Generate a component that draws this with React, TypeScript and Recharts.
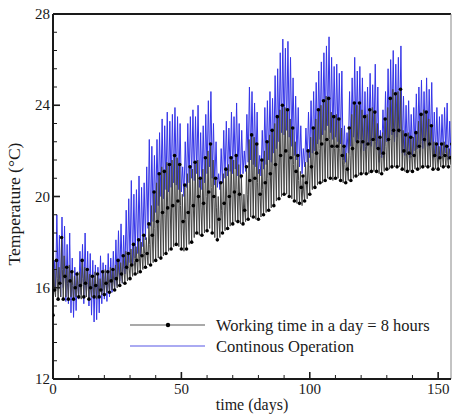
import { LineChart, Line, XAxis, YAxis, ReferenceLine } from "recharts";

// daily peak / trough of the continuous-operation run (°C), days 0..155
const blueHigh = [
  17.2, 19.2, 18.3, 19.1, 18.7, 17.9, 18.4, 17.3, 16.9, 16.7,
  17.6, 17.9, 18.4, 17.6, 17.5, 17.2, 17.0, 16.9, 17.4, 17.1,
  17.0, 17.5, 17.3, 17.6, 18.1, 18.5, 18.8, 18.3, 19.4, 19.9,
  20.7, 20.1, 20.3, 20.9, 20.4, 20.6, 21.3, 22.5, 22.2, 21.8,
  22.5, 22.8, 23.4, 23.1, 23.7, 23.3, 23.6, 23.9, 23.5, 23.2,
  21.3, 22.4, 23.2, 23.5, 23.8, 23.5, 24.0, 22.8, 23.1, 23.6,
  24.2, 24.6, 23.2, 22.4, 21.0, 22.1, 22.9, 23.3, 23.0, 23.7,
  23.5, 24.1, 23.2, 22.9, 22.0, 23.6, 24.8, 24.6, 24.1, 23.7,
  21.8, 22.9, 23.9, 24.2, 24.6, 24.3, 25.3, 25.6, 26.3, 26.9,
  26.5, 26.8, 26.1, 25.2, 24.4, 23.9, 23.1, 22.1, 23.0, 23.7,
  24.2, 24.6, 25.0, 25.5, 25.9, 26.3, 26.6, 27.0, 26.1, 25.7,
  25.8, 25.4, 25.5, 23.1, 22.8, 24.6, 25.2, 26.1, 25.5, 25.7,
  25.2, 24.6, 24.8, 25.4, 24.9, 25.8, 24.8, 22.9, 23.8, 24.6,
  25.6, 26.0, 26.4, 25.8, 26.1, 26.6, 24.4, 24.0, 24.2, 23.6,
  23.9, 24.5, 24.8, 25.1, 24.6, 25.2, 24.7, 25.0, 23.7, 23.9,
  23.5, 23.6, 23.9, 24.1, 23.3, 23.5,
];

const blueLow = [
  16.2, 15.9, 16.1, 15.6, 16.0, 15.4, 15.3, 14.9, 14.7, 15.0,
  15.5, 15.7, 15.3, 15.6, 15.2, 14.8, 14.5, 14.6, 14.9, 15.3,
  15.5, 15.4, 15.6, 15.8, 15.9, 16.1, 16.3, 16.2, 16.6, 16.8,
  17.1, 17.0, 17.3, 17.5, 17.4, 17.8, 18.1, 18.6, 18.7, 18.9,
  19.3, 19.6, 20.0, 19.9, 20.3, 20.2, 20.4, 20.6, 20.5, 20.3,
  20.2, 20.0, 20.4, 20.6, 20.8, 20.7, 21.0, 20.4, 20.3, 20.6,
  21.0, 21.3, 20.8, 20.5, 20.4, 20.3, 20.6, 20.8, 20.9, 21.1,
  21.0, 21.2, 20.9, 20.8, 21.0, 21.1, 21.5, 21.6, 21.4, 21.3,
  21.0, 20.9, 21.2, 21.4, 21.6, 21.5, 21.9, 22.1, 22.4, 22.8,
  22.7, 22.9, 22.6, 22.2, 21.8, 21.6, 21.3, 21.0, 21.3, 21.5,
  21.7, 21.9, 22.0, 22.3, 22.5, 22.7, 22.9, 23.1, 22.8, 22.5,
  22.6, 22.4, 22.3, 21.6, 21.5, 21.9, 22.2, 22.6, 22.4, 22.5,
  22.3, 22.0, 22.1, 22.3, 22.2, 22.5, 22.1, 21.5, 21.7, 22.0,
  22.4, 22.5, 22.7, 22.4, 22.6, 22.8, 21.9, 21.8, 21.9, 21.7,
  21.8, 22.0, 22.1, 22.3, 22.1, 22.4, 22.2, 22.3, 21.7, 21.8,
  21.6, 21.7, 21.8, 21.9, 21.6, 21.7,
];

// 8 hours a day run: start-of-day, peak and mid-afternoon values (°C)
const blackBottom = [
  14.8, 15.6, 15.5, 15.6, 15.5, 15.6, 15.5, 15.6, 15.5, 15.6,
  15.6, 15.5, 15.6, 15.6, 15.5, 15.6, 15.6, 15.5, 15.6, 15.7,
  15.7, 15.8, 15.8, 15.9, 15.9, 16.0, 16.1, 16.2, 16.2, 16.3,
  16.4, 16.5, 16.6, 16.6, 16.7, 16.8, 16.9, 17.0, 17.0, 17.1,
  17.2, 17.3, 17.3, 17.4, 17.5, 17.6, 17.7, 17.8, 17.9, 17.8,
  17.7, 17.6, 17.7, 17.9, 18.0, 18.2, 18.4, 18.3, 18.3, 18.4,
  18.5, 18.6, 18.4, 18.2, 18.1, 18.2, 18.4, 18.5, 18.6, 18.7,
  18.8, 18.9, 18.9, 18.8, 18.8, 18.9, 19.0, 19.1, 19.1, 19.0,
  19.0, 19.1, 19.2, 19.3, 19.4, 19.5, 19.6, 19.8, 19.9, 20.0,
  20.1, 20.1, 20.0, 19.9, 19.8, 19.7, 19.7, 19.6, 19.8, 19.9,
  20.1, 20.3, 20.4, 20.5, 20.6, 20.6, 20.7, 20.8, 20.8, 20.7,
  20.8, 20.8, 20.7, 20.6, 20.6, 20.7, 20.7, 20.8, 20.9, 20.9,
  21.0, 21.0, 21.0, 21.0, 21.1, 21.1, 21.1, 21.0, 21.0, 21.1,
  21.2, 21.2, 21.3, 21.3, 21.3, 21.3, 21.2, 21.1, 21.1, 21.1,
  21.1, 21.2, 21.2, 21.2, 21.3, 21.3, 21.3, 21.3, 21.2, 21.2,
  21.2, 21.3, 21.3, 21.3, 21.3, 21.4,
];

const blackTop = [
  16.8, 17.2, 16.9, 18.2, 17.4, 16.9, 17.0, 16.7, 16.5, 16.6,
  16.7, 17.2, 16.9, 16.8, 16.6, 16.5, 16.7, 16.6, 16.4, 16.7,
  16.8, 16.7, 16.9, 16.8, 17.0, 17.2, 17.1, 17.4, 17.6, 17.5,
  17.7, 17.9, 17.8, 18.1, 18.0, 18.3, 18.2, 18.8, 19.6, 20.2,
  20.6, 21.0, 21.3, 21.1, 21.5, 21.4, 21.6, 21.8, 21.7, 21.4,
  20.1, 20.5, 21.0, 21.3, 21.2, 21.5, 21.6, 20.8, 21.2, 21.7,
  22.0, 22.3, 21.6, 20.8, 20.0, 20.6, 21.0, 21.2, 21.4, 21.7,
  21.6, 21.8, 21.4, 20.9, 20.1, 21.3, 22.5, 22.7, 22.6, 22.3,
  21.2, 21.6, 22.0, 22.4, 22.7, 22.9, 23.2, 23.5, 23.8, 24.0,
  23.9, 23.8, 23.4, 23.0, 22.4, 21.8, 21.1, 20.9, 21.5, 22.0,
  22.6, 23.0, 23.4, 23.8, 24.0, 24.2, 24.4, 24.3, 23.7, 23.5,
  23.6, 23.4, 23.0, 22.2, 21.9, 23.0, 23.6, 24.1, 24.0, 24.1,
  23.8, 23.5, 23.6, 23.8, 23.9, 23.7, 23.2, 22.6, 22.8, 23.4,
  23.9, 24.3, 24.7, 24.5, 24.6, 24.7, 22.9, 22.7, 22.8, 22.6,
  22.6, 22.8, 23.3, 23.6, 23.8, 23.7, 23.4, 23.1, 22.4, 22.3,
  22.2, 22.3, 22.4, 22.2, 22.1, 22.3,
];

const blackMid = [
  15.9, 16.4, 16.2, 16.8, 16.5, 16.2, 16.3, 16.1, 16.0, 16.1,
  16.1, 16.4, 16.2, 16.2, 16.0, 16.0, 16.1, 16.0, 15.9, 16.2,
  16.2, 16.2, 16.3, 16.3, 16.4, 16.6, 16.6, 16.8, 16.9, 16.9,
  17.0, 17.2, 17.2, 17.3, 17.4, 17.5, 17.5, 17.9, 18.3, 18.6,
  18.9, 19.1, 19.3, 19.2, 19.5, 19.5, 19.6, 19.8, 19.8, 19.6,
  18.9, 19.0, 19.3, 19.6, 19.6, 19.8, 20.0, 19.5, 19.7, 20.0,
  20.2, 20.4, 20.0, 19.5, 19.0, 19.4, 19.7, 19.8, 20.0, 20.2,
  20.2, 20.3, 20.1, 19.8, 19.4, 20.1, 20.7, 20.9, 20.8, 20.6,
  20.1, 20.3, 20.6, 20.8, 21.0, 21.2, 21.4, 21.6, 21.8, 22.0,
  22.0, 21.9, 21.7, 21.4, 21.1, 20.7, 20.4, 20.2, 20.6, 20.9,
  21.3, 21.6, 21.9, 22.1, 22.3, 22.4, 22.5, 22.5, 22.2, 22.1,
  22.2, 22.1, 21.8, 21.4, 21.2, 21.8, 22.1, 22.4, 22.4, 22.5,
  22.4, 22.2, 22.3, 22.4, 22.5, 22.4, 22.1, 21.8, 21.9, 22.2,
  22.5, 22.7, 22.9, 22.9, 22.9, 23.0, 22.0, 21.9, 21.9, 21.8,
  21.8, 22.0, 22.2, 22.4, 22.5, 22.5, 22.3, 22.2, 21.8, 21.7,
  21.7, 21.8, 21.8, 21.7, 21.7, 21.8,
];

const xTicks = [0, 10, 20, 30, 40, 50, 60, 70, 80, 90, 100, 110, 120, 130, 140, 150];
const yTicks = [
  12, 12.8, 13.6, 14.4, 15.2, 16, 16.8, 17.6, 18.4, 19.2, 20,
  20.8, 21.6, 22.4, 23.2, 24, 24.8, 25.6, 26.4, 27.2, 28,
];

const blueData = blueHigh.flatMap((hi, d) => [
  { t: d, v: blueLow[d] },
  { t: d + 0.5, v: hi },
]);

const blackData = blackBottom.flatMap((lo, d) => [
  { t: d, v: lo },
  { t: d + 0.35, v: blackTop[d] },
  { t: d + 0.65, v: blackMid[d] },
]);

const FONT = '"Liberation Serif", "DejaVu Serif", serif';
const INK = "#1a1a1a";
const txt = { fontFamily: FONT, fill: INK };

function XTick(props: any) {
  const { x, y, payload } = props;
  const major = payload.value % 50 === 0;
  return (
    <g>
      <line x1={x} x2={x} y1={y} y2={y - (major ? 7 : 4)} stroke={INK} strokeWidth={major ? 1.6 : 1} />
      {major && (
        <text x={x} y={y + 15} textAnchor="middle" style={{ ...txt, fontSize: 15 }}>
          {payload.value}
        </text>
      )}
    </g>
  );
}

function YTick(props: any) {
  const { x, y, payload } = props;
  const major = Number.isInteger(payload.value);
  return (
    <g>
      <line x1={x} x2={x + (major ? 7 : 4)} y1={y} y2={y} stroke={INK} strokeWidth={major ? 1.6 : 1} />
      {major && (
        <text x={x - 3} y={y + 5} textAnchor="end" style={{ ...txt, fontSize: 15 }}>
          {payload.value}
        </text>
      )}
    </g>
  );
}

function XTitle(props: any) {
  const vb = props.viewBox || { x: 53, y: 379, width: 398 };
  return (
    <text x={vb.x + vb.width / 2} y={vb.y + 31} textAnchor="middle" style={{ ...txt, fontSize: 16 }}>
      time (days)
    </text>
  );
}

function YTitle() {
  return (
    <text x={20} y={204} transform="rotate(-90 20 204)" textAnchor="middle" style={{ ...txt, fontSize: 17.5 }}>
      Temperature (°C)
    </text>
  );
}

export default function App() {
  return (
    <div style={{ position: "absolute", left: 0, top: 0, width: 454, height: 414, background: "#fff" }}>
      <LineChart width={454} height={414} margin={{ top: 14, right: 3, bottom: 0, left: 0 }}>
        <XAxis
          type="number"
          dataKey="t"
          domain={[0, 155]}
          ticks={xTicks}
          interval={0}
          allowDataOverflow
          height={35}
          tickSize={0}
          tickMargin={0}
          tickLine={false}
          tick={<XTick />}
          axisLine={{ stroke: INK, strokeWidth: 2 }}
          label={<XTitle />}
        />
        <YAxis
          type="number"
          domain={[12, 28]}
          ticks={yTicks}
          interval={0}
          allowDataOverflow
          width={53}
          tickSize={0}
          tickMargin={0}
          tickLine={false}
          tick={<YTick />}
          axisLine={{ stroke: INK, strokeWidth: 2 }}
          label={<YTitle />}
        />
        <ReferenceLine y={28} stroke={INK} strokeWidth={2} />
        <ReferenceLine x={155} stroke="#888" strokeWidth={1} />
        <Line
          data={blueData}
          dataKey="v"
          type="linear"
          stroke="#3535e8"
          strokeWidth={1}
          dot={false}
          isAnimationActive={false}
        />
        <Line
          data={blackData}
          dataKey="v"
          type="linear"
          stroke="#444"
          strokeWidth={1}
          isAnimationActive={false}
          dot={(p: any) =>
            p.index % 2 === 0 ? (
              <circle key={p.index} cx={p.cx} cy={p.cy} r={1.8} fill="#000" />
            ) : (
              <g key={p.index} />
            )
          }
        />
      </LineChart>
      <svg width={454} height={414} style={{ position: "absolute", left: 0, top: 0, pointerEvents: "none" }}>
        <line x1={130} x2={205} y1={325} y2={325} stroke="#555" strokeWidth={1.2} />
        <circle cx={168} cy={325} r={2.2} fill="#000" />
        <text x={216} y={330.5} style={{ ...txt, fontSize: 16.5 }}>
          Working time in a day = 8 hours
        </text>
        <line x1={130} x2={205} y1={346} y2={346} stroke="#5656e6" strokeWidth={1.2} />
        <text x={216} y={351.5} style={{ ...txt, fontSize: 16.5 }}>
          Continous Operation
        </text>
      </svg>
    </div>
  );
}
